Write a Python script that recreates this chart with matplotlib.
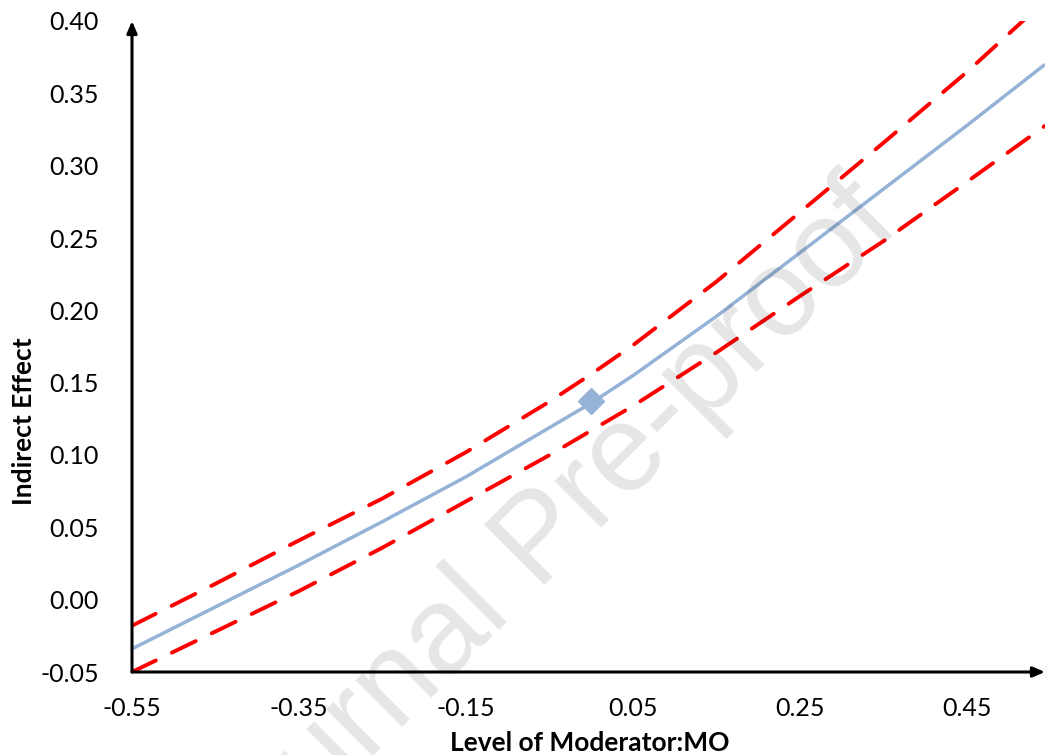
import matplotlib
matplotlib.use("Agg")
import matplotlib.pyplot as plt

# ---- data ----
moderator = [-0.55, -0.45, -0.35, -0.25, -0.15, -0.05, 0.00, 0.05, 0.15, 0.25, 0.35, 0.45, 0.543]
effect    = [-0.034, -0.005, 0.024, 0.054, 0.085, 0.119, 0.136, 0.155, 0.196, 0.240, 0.284, 0.328, 0.370]
upper_ci  = [-0.018, 0.011, 0.041, 0.070, 0.102, 0.137, 0.156, 0.176, 0.220, 0.268, 0.316, 0.365, 0.414]
lower_ci  = [-0.050, -0.022, 0.006, 0.036, 0.068, 0.100, 0.117, 0.134, 0.171, 0.210, 0.248, 0.289, 0.3275]
point_x = [0.0]
point_y = [0.137]

xticks = [-0.55, -0.35, -0.15, 0.05, 0.25, 0.45]
xtick_labels = ["-0.55", "-0.35", "-0.15", "0.05", "0.25", "0.45"]
yticks = [-0.05, 0.00, 0.05, 0.10, 0.15, 0.20, 0.25, 0.30, 0.35, 0.40]
ytick_labels = ["-0.05", "0.00", "0.05", "0.10", "0.15", "0.20", "0.25", "0.30", "0.35", "0.40"]

x_label = "Level of Moderator:MO"
y_label = "Indirect Effect"
watermark = "Journal Pre-proof"

# ---- figure ----
W, H = 1045, 755
fig = plt.figure(figsize=(W / 100, H / 100), dpi=100)
plt.rcParams['font.family'] = ['Lato', 'DejaVu Sans']

left, right, top, bottom = 132, 1045, 21, 672
ax = fig.add_axes([left / W, 1 - bottom / H, (right - left) / W, (bottom - top) / H])
ax.set_xlim(-0.55, 0.543)
ax.set_ylim(-0.05, 0.40)

blue = "#95B3D7"
red = "#FF0000"

ax.plot(moderator, lower_ci, color=red, lw=2.8, linestyle=(0, (6.8, 4.6)),
        dash_capstyle='round', zorder=3)
ax.plot(moderator, upper_ci, color=red, lw=2.8, linestyle=(0, (6.8, 4.6)),
        dash_capstyle='round', zorder=3)
ax.plot(moderator, effect, color=blue, lw=2.5, solid_capstyle='butt', zorder=4)
ax.plot(point_x, point_y, marker='D', color=blue, markersize=13, linestyle='none', zorder=5)

for s in ax.spines.values():
    s.set_visible(False)

ax.set_xticks(xticks)
ax.set_xticklabels(xtick_labels)
ax.set_yticks(yticks)
ax.set_yticklabels(ytick_labels)
ax.tick_params(axis='both', length=0, labelsize=18, colors='black')
ax.tick_params(axis='x', pad=18)
ax.tick_params(axis='y', pad=24)

# axis lines with arrow heads
ax.annotate('', xy=(0, 1.0), xytext=(0, 0), xycoords='axes fraction',
            arrowprops=dict(arrowstyle='-|>,head_length=0.7,head_width=0.3', lw=2.2,
                            color='black', shrinkA=0, shrinkB=0), zorder=6, annotation_clip=False)
ax.annotate('', xy=(1.0, 0), xytext=(0, 0), xycoords='axes fraction',
            arrowprops=dict(arrowstyle='-|>,head_length=0.7,head_width=0.3', lw=2.2,
                            color='black', shrinkA=0, shrinkB=0), zorder=6, annotation_clip=False)

fig.text(590 / W, 1 - 743 / H, x_label, ha='center', va='center', fontsize=19, fontweight='bold')
fig.text(24 / W, 1 - 421 / H, y_label, ha='center', va='center', rotation=90,
         fontsize=19, fontweight='bold')

# watermark
fig.text(564 / W, 1 - 565 / H, watermark, ha='center', va='baseline', rotation=45,
         rotation_mode='anchor', fontsize=89, family='Liberation Sans',
         color='black', alpha=0.1, zorder=10)

fig.savefig("out.png", dpi=100)
